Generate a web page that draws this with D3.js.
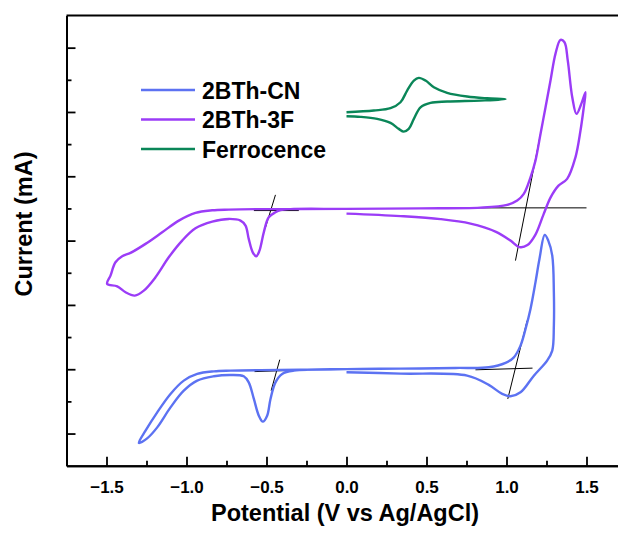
<!DOCTYPE html>
<html>
<head>
<meta charset="utf-8">
<script src="https://cdn.jsdelivr.net/npm/d3@7"></script>
<style>
  body { margin: 0; background: #fff; }
  text { font-family: "Liberation Sans", Arial, sans-serif; font-weight: bold; }
</style>
</head>
<body>
<div id="chart"></div>
<script>
// CV data: [potential (V), current (arb., 1 = one major tick)]
var cnData = [
  [0.0, -2.048], [0.3375, -2.068], [0.754, -2.100], [0.889, -2.244], [0.973, -2.384], [1.025, -2.421],
  [1.0875, -2.359], [1.171, -2.100], [1.254, -1.866], [1.286, -1.711], [1.296, -1.322], [1.296, -0.804],
  [1.286, -0.233], [1.261, 0.0], [1.239, 0.089], [1.206, -0.285], [1.181, -0.649], [1.15, -1.062],
  [1.119, -1.373], [1.0875, -1.633], [1.046, -1.815], [0.994, -1.902], [0.889, -1.970], [0.681, -1.980],
  [0.3375, -1.991], [0.0, -1.998], [-0.329, -2.022], [-0.402, -2.073], [-0.444, -2.204], [-0.475, -2.462],
  [-0.496, -2.722], [-0.523, -2.815], [-0.548, -2.722], [-0.579, -2.462], [-0.611, -2.204], [-0.642, -2.110],
  [-0.725, -2.089], [-0.829, -2.110], [-0.933, -2.177], [-1.017, -2.333], [-1.1, -2.593], [-1.183, -2.904],
  [-1.246, -3.075], [-1.298, -3.146], [-1.256, -2.955], [-1.183, -2.670], [-1.1, -2.384], [-1.017, -2.177],
  [-0.933, -2.073], [-0.829, -2.033], [-0.725, -2.022], [-0.5375, -2.014], [0.0, -2.003]
];

var fData = [
  [0.0, 0.420], [0.3375, 0.381], [0.5875, 0.334], [0.775, 0.264], [0.931, 0.140], [1.025, 0.0],
  [1.081, -0.101], [1.131, -0.070], [1.181, 0.093], [1.231, 0.404], [1.275, 0.669], [1.325, 0.855],
  [1.379, 0.960], [1.431, 1.295], [1.4625, 1.711], [1.483, 2.073], [1.494, 2.306], [1.466, 2.115],
  [1.4375, 1.970], [1.411, 2.229], [1.383, 2.799], [1.3625, 3.084], [1.3375, 3.121], [1.306, 2.904],
  [1.275, 2.488], [1.244, 2.073], [1.2125, 1.659], [1.181, 1.244], [1.150, 0.984], [1.108, 0.726],
  [1.067, 0.622], [1.004, 0.555], [0.8375, 0.513], [0.4625, 0.501], [0.0, 0.493], [-0.35, 0.490],
  [-0.4125, 0.474], [-0.444, 0.440], [-0.486, 0.362], [-0.517, 0.129], [-0.544, -0.156], [-0.564, -0.244],
  [-0.586, -0.182], [-0.611, 0.026], [-0.631, 0.233], [-0.6625, 0.311], [-0.736, 0.337], [-0.839, 0.295],
  [-0.944, 0.191], [-1.027, 0.0], [-1.111, -0.260], [-1.194, -0.571], [-1.267, -0.778], [-1.323, -0.855],
  [-1.381, -0.804], [-1.433, -0.711], [-1.496, -0.673], [-1.475, -0.544], [-1.444, -0.337], [-1.402, -0.244],
  [-1.35, -0.191], [-1.256, -0.051], [-1.152, 0.129], [-1.048, 0.311], [-0.944, 0.431], [-0.839, 0.471],
  [-0.736, 0.482], [-0.5375, 0.490], [0.0, 0.493]
];

var fcData = [
  [0.0, 1.995], [0.171, 2.022], [0.275, 2.058], [0.3375, 2.151], [0.379, 2.333], [0.421, 2.488],
  [0.452, 2.530], [0.494, 2.488], [0.546, 2.384], [0.629, 2.297], [0.754, 2.240], [0.879, 2.213],
  [0.994, 2.198], [0.8375, 2.177], [0.629, 2.162], [0.525, 2.142], [0.4625, 2.073], [0.421, 1.893],
  [0.389, 1.737], [0.358, 1.695], [0.327, 1.737], [0.275, 1.830], [0.192, 1.893], [0.0875, 1.924],
  [0.0, 1.933]
];

// onset tangent lines (black)
var tangents = [
  [[-0.444, 0.711], [-0.506, 0.207]], [[-0.579, 0.467], [-0.298, 0.467]],
  [[1.2125, 1.659], [1.056, -0.311]], [[0.748, 0.509], [1.5, 0.509]],
  [[-0.417, -1.851], [-0.471, -2.333]], [[-0.575, -2.037], [-0.246, -2.009]],
  [[1.129, -1.244], [1.008, -2.462]], [[0.806, -2.009], [1.1625, -1.983]]
];

var seriesNames = ["2BTh-CN", "2BTh-3F", "Ferrocence"];
var seriesColors = ["#5c72f2", "#9b3cf7", "#0a8658"];
var xTicks = [-1.5, -1.0, -0.5, 0.0, 0.5, 1.0, 1.5];

var w = 618, h = 534;
var svg = d3.select("#chart").append("svg").attr("width", w).attr("height", h);

// Scales (right edge of the frame falls outside the picture)
var x = d3.scaleLinear().domain([-1.75, 1.75]).range([66.5, 626.5]);
var y = d3.scaleLinear().domain([-3.5, 3.5]).range([465.7, 15.5]);

var line = d3.line().x(d => x(d[0])).y(d => y(d[1])).curve(d3.curveCatmullRom.alpha(0.5));

// tangent lines first, curves on top
svg.selectAll(".tan").data(tangents).enter().append("line")
   .attr("x1", d => x(d[0][0])).attr("y1", d => y(d[0][1]))
   .attr("x2", d => x(d[1][0])).attr("y2", d => y(d[1][1]))
   .attr("stroke", "#000").attr("stroke-width", 1);

[cnData, fData, fcData].forEach(function(data, i) {
    svg.append("path")
       .datum(data)
       .attr("d", line)
       .attr("fill", "none")
       .attr("stroke", seriesColors[i])
       .attr("stroke-width", 2.4)
       .attr("stroke-linejoin", "round");
});

// X axis, ticks pointing inward
var xAxis = svg.append("g").attr("transform", `translate(0, ${y(-3.5)})`)
   .call(d3.axisBottom(x).tickValues(xTicks).tickSizeInner(-9).tickSizeOuter(0)
           .tickFormat(d3.format(".1f")).tickPadding(15));
xAxis.selectAll("text").style("font-size", "17px").attr("fill", "#000");
svg.append("g").attr("transform", `translate(0, ${y(-3.5)})`)
   .call(d3.axisBottom(x).tickValues(d3.range(-1.25, 1.5, 0.5)).tickSizeInner(-5).tickSizeOuter(0).tickFormat(""));

// Y axis, no labels
svg.append("g").attr("transform", `translate(${x(-1.75)}, 0)`)
   .call(d3.axisLeft(y).tickValues(d3.range(-3, 3.5, 1)).tickSizeInner(-9).tickSizeOuter(0).tickFormat(""));
svg.append("g").attr("transform", `translate(${x(-1.75)}, 0)`)
   .call(d3.axisLeft(y).tickValues(d3.range(-2.5, 3, 1)).tickSizeInner(-5).tickSizeOuter(0).tickFormat(""));

svg.selectAll(".domain").attr("stroke", "#000").attr("stroke-width", 2);
svg.selectAll(".tick line").attr("stroke", "#000").attr("stroke-width", 1.8);

// top frame line
svg.append("line").attr("x1", x(-1.75)).attr("x2", x(1.75)).attr("y1", y(3.5)).attr("y2", y(3.5))
   .attr("stroke", "#000").attr("stroke-width", 2);

// Axis titles
svg.append("text").attr("x", 345).attr("y", 521).attr("text-anchor", "middle")
   .style("font-size", "23.5px").text("Potential (V vs Ag/AgCl)");
svg.append("text").attr("transform", "translate(32, 224) rotate(-90)").attr("text-anchor", "middle")
   .style("font-size", "23.5px").text("Current (mA)");

// Legend
var legend = svg.selectAll(".legend").data(seriesNames).enter().append("g")
   .attr("transform", (d, i) => `translate(141, ${90 + i * 29.5})`);
legend.append("line").attr("x1", 0).attr("x2", 54)
   .attr("stroke", (d, i) => seriesColors[i]).attr("stroke-width", 2.4);
legend.append("text").attr("x", 61).attr("y", 8.5).style("font-size", "23px").text(d => d);
</script>
</body>
</html>
